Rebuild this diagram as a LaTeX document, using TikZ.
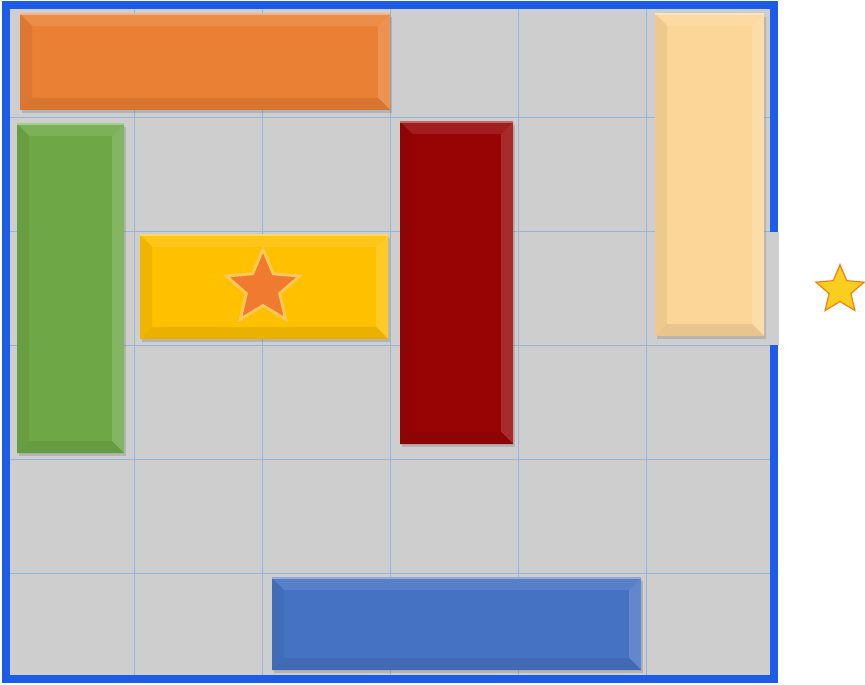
\documentclass[tikz,border=0pt]{standalone}
\usepackage{tikz}
\usetikzlibrary{shapes.geometric}

\definecolor{boardgray}{RGB}{206,206,206}
\definecolor{gridblue}{RGB}{150,182,214}
\definecolor{frameblue}{RGB}{28,92,232}
\definecolor{blkorange}{RGB}{234,128,52}
\definecolor{blkgreen}{RGB}{110,168,70}
\definecolor{blkyellow}{RGB}{255,192,0}
\definecolor{blkred}{RGB}{152,4,4}
\definecolor{blktan}{RGB}{252,214,152}
\definecolor{blkblue}{RGB}{70,114,196}
\definecolor{starorange}{RGB}{240,122,48}
\definecolor{staredge}{RGB}{252,200,90}
\definecolor{stargold}{RGB}{250,206,30}

% block with shadow and bevel: x1,y1,x2,y2 (pixels), colour
\newcommand{\bevelblock}[5]{%
  \fill[black, opacity=0.12] ({#1+2},{#2+3}) rectangle ({#3+2},{#4+3});
  \fill[#5] (#1,#2) rectangle (#3,#4);
  \fill[#5!90!white] (#1,#2) -- (#3,#2) -- ({#3-12},{#2+12}) -- ({#1+12},{#2+12}) -- cycle;
  \fill[#5!94!black] (#1,#2) -- ({#1+12},{#2+12}) -- ({#1+12},{#4-12}) -- (#1,#4) -- cycle;
  \fill[#5!85!white] (#3,#2) -- ({#3-12},{#2+12}) -- ({#3-12},{#4-12}) -- (#3,#4) -- cycle;
  \fill[#5!92!black] (#1,#4) -- ({#1+12},{#4-12}) -- ({#3-12},{#4-12}) -- (#3,#4) -- cycle;
  \draw[#5!60!white, line width=0.8pt] (#1,#2) -- (#3,#2);
}

\begin{document}
\begin{tikzpicture}[x=0.75pt, y=-0.75pt]
  \useasboundingbox (0,0) rectangle (865,685);
  % board and exit gap
  \fill[boardgray] (6,5) rectangle (774,679);
  \fill[boardgray] (774,232) rectangle (779,345);
  \foreach \gx in {134,262,390,518,646}
    \draw[gridblue, line width=0.6pt] (\gx,5) -- (\gx,679);
  \foreach \gy in {117,231,345,459,573}
    \draw[gridblue, line width=0.6pt] (6,\gy) -- (778,\gy);
  % blocks: x1/y1/x2/y2/colour
  \foreach \xa/\ya/\xb/\yb/\col in {%
      20/14/390/110/blkorange,
      17/124/124/453/blkgreen,
      140/235/388/339/blkyellow,
      400/122/513/444/blkred,
      655/14/764/336/blktan,
      272/578/641/670/blkblue}
  {
    \bevelblock{\xa}{\ya}{\xb}{\yb}{\col}
  }
  % stars
  \node[star, star points=5, star point ratio=2.2, minimum size=58pt, inner sep=0pt,
        fill=starorange, draw=staredge, line width=2.2pt] (keystar) at (263,288) {};
  \node[star, star points=5, star point ratio=2.2, minimum size=38pt, inner sep=0pt,
        fill=stargold, draw=orange!75!brown, line width=0.9pt] (goalstar) at (840,290) {};
  % frame with exit on the right
  \draw[frameblue, line width=6.5pt, line join=miter]
    (774,232) -- (774,5) -- (6,5) -- (6,679) -- (774,679) -- (774,345);
\end{tikzpicture}
\end{document}
